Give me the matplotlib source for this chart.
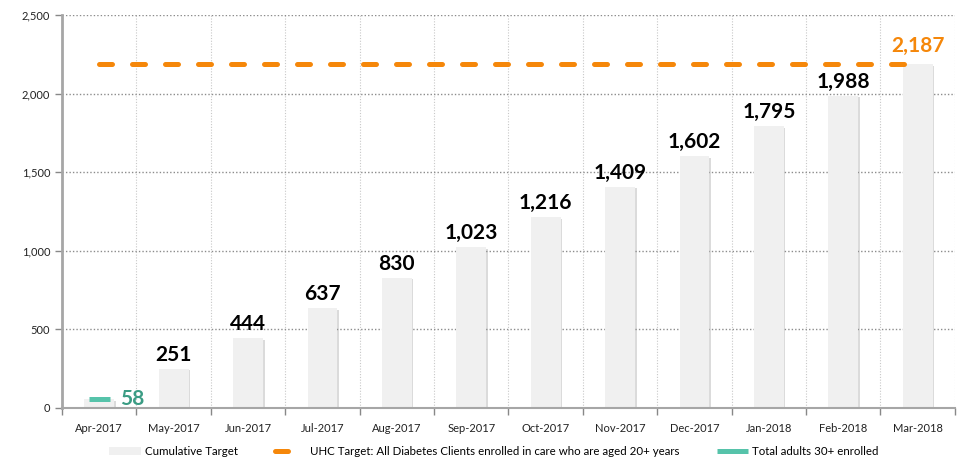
import matplotlib.pyplot as plt
import matplotlib.patheffects as pe
from matplotlib.lines import Line2D
from matplotlib.patches import Patch
from matplotlib.ticker import FuncFormatter, FixedLocator
import numpy as np

plt.rcParams['font.family'] = ['Lato', 'DejaVu Sans']

# ============= Data =============
months = ["Apr-2017", "May-2017", "Jun-2017", "Jul-2017", "Aug-2017", "Sep-2017",
          "Oct-2017", "Nov-2017", "Dec-2017", "Jan-2018", "Feb-2018", "Mar-2018"]
cumulative_target = [58, 251, 444, 637, 830, 1023, 1216, 1409, 1602, 1795, 1988, 2187]
uhc_target = 2187
enrolled_months = ["Apr-2017"]
enrolled = [58]

ORANGE = "#f5870a"
TEAL = "#56c3aa"
TEAL_TXT = "#3b9c84"
BAR = "#f0f0f0"

# ============= Plot =============
fig = plt.figure(figsize=(9.59, 4.65), dpi=100)
ax = fig.add_axes([0.0647, 0.1226, 0.931, 0.845])

x = np.arange(len(months))
bars = ax.bar(x, cumulative_target, width=0.4, color=BAR, zorder=2)
for b in bars:
    b.set_path_effects([pe.SimplePatchShadow(offset=(1.2, -1.2), shadow_rgbFace="#9a9a9a", alpha=0.35),
                        pe.Normal()])

for xi, v in zip(x[1:-1], cumulative_target[1:-1]):
    ax.text(xi, v + 25, f"{v:,}", ha="center", va="bottom", fontsize=15,
            fontweight="bold", color="black", zorder=5)

# UHC target dashed line
ax.plot([x[0], x[-1]], [uhc_target, uhc_target], color=ORANGE, lw=3.6,
        dashes=(2.6, 4.0), dash_capstyle="round", zorder=3)
ax.text(x[-1], uhc_target + 55, f"{uhc_target:,}", ha="center", va="bottom",
        fontsize=15, fontweight="bold", color=ORANGE, zorder=5)

# Enrolled
ex = [months.index(m) for m in enrolled_months]
for xi, v in zip(ex, enrolled):
    ax.plot([xi - 0.14, xi + 0.14], [v, v], color=TEAL, lw=3.6,
            solid_capstyle="butt", zorder=4)
    ax.text(xi + 0.28, v, f"{v:,}", ha="left", va="center", fontsize=15,
            fontweight="bold", color=TEAL_TXT, zorder=5)

ax.set_xlim(-0.5, len(months) - 0.5)
ax.set_ylim(0, 2500)
ax.set_yticks(range(0, 2501, 500))
ax.yaxis.set_major_formatter(FuncFormatter(lambda v, p: f"{int(v):,}"))

ax.set_xticks(x)
ax.set_xticklabels(months, fontsize=8, color="#222222")
ax.xaxis.set_minor_locator(FixedLocator(np.arange(-0.5, len(months), 1.0)))
ax.tick_params(axis="x", which="major", length=0, pad=11)
ax.tick_params(axis="x", which="minor", length=5, color="#888888", width=1)
ax.tick_params(axis="y", labelsize=8, labelcolor="#222222", length=5,
               color="#888888", width=1)

ax.grid(axis="y", which="major", color="#8c8c8c", linestyle=(0, (1, 1.5)), lw=1, zorder=0)
ax.grid(axis="x", which="minor", color="#c8c8c8", linestyle=(0, (1, 1.5)), lw=0.8, zorder=0)
ax.set_axisbelow(True)

for s in ["top", "right"]:
    ax.spines[s].set_visible(False)
ax.spines["left"].set_color("#a6a6a6")
ax.spines["left"].set_linewidth(2)
ax.spines["bottom"].set_color("#a6a6a6")
ax.spines["bottom"].set_linewidth(1.5)

handles = [
    Patch(facecolor=BAR, edgecolor="none", label="Cumulative Target"),
    Line2D([0], [0], color=ORANGE, lw=3.6, dashes=(2.6, 40), dash_capstyle="round",
           label="UHC Target: All Diabetes Clients enrolled in care who are aged 20+ years"),
    Line2D([0], [0], color=TEAL, lw=3.6, solid_capstyle="butt",
           label="Total adults 30+ enrolled"),
]
fig.legend(handles=handles, loc="lower center", bbox_to_anchor=(0.515, -0.005), ncol=3,
           frameon=False, fontsize=8.3, handlelength=2.77, handletextpad=0.3,
           columnspacing=3.2)

fig.savefig("out.png", dpi=100)
